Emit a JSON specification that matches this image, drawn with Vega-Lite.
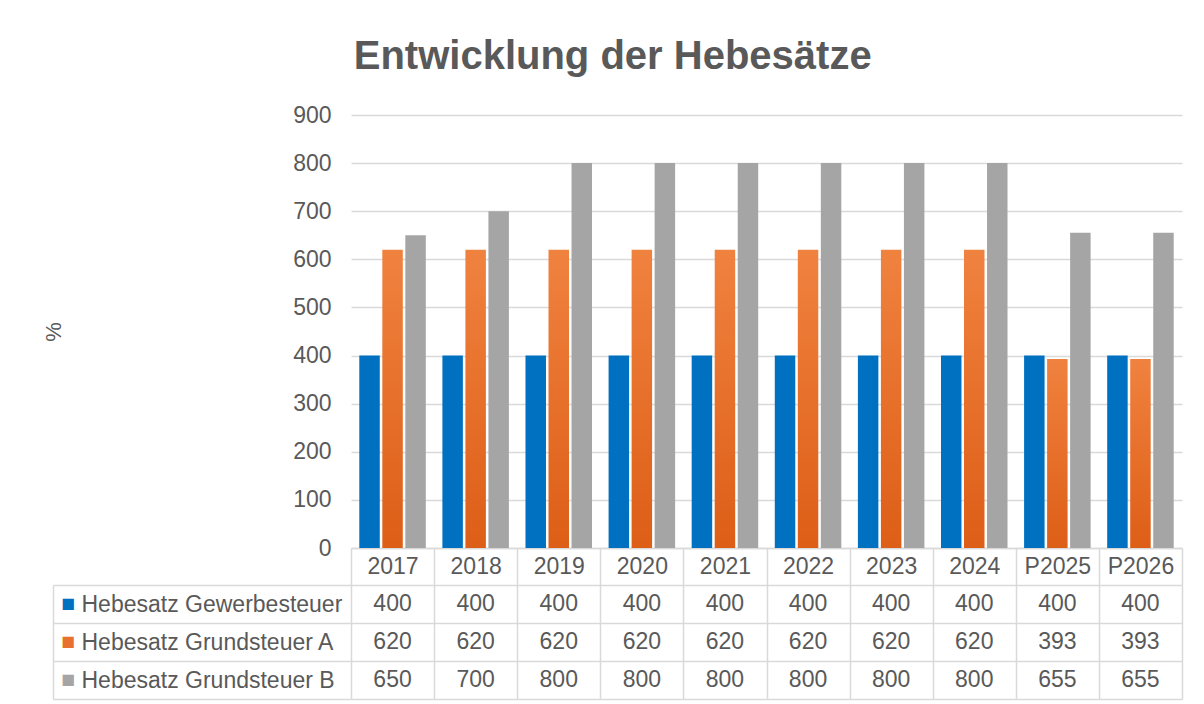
{
  "$schema": "https://vega.github.io/schema/vega-lite/v6.json",
  "background": "white",
  "padding": {"left": 42, "top": 37, "right": 20, "bottom": 5},
  "title": {"text": "Entwicklung der Hebesätze", "font": "Liberation Sans", "fontSize": 40, "fontWeight": "bold", "color": "#595959", "anchor": "middle", "offset": 27},
  "datasets": {
    "d": [
      {"year": "2017", "series": "Hebesatz Gewerbesteuer", "value": 400},
      {"year": "2017", "series": "Hebesatz Grundsteuer A", "value": 620},
      {"year": "2017", "series": "Hebesatz Grundsteuer B", "value": 650},
      {"year": "2018", "series": "Hebesatz Gewerbesteuer", "value": 400},
      {"year": "2018", "series": "Hebesatz Grundsteuer A", "value": 620},
      {"year": "2018", "series": "Hebesatz Grundsteuer B", "value": 700},
      {"year": "2019", "series": "Hebesatz Gewerbesteuer", "value": 400},
      {"year": "2019", "series": "Hebesatz Grundsteuer A", "value": 620},
      {"year": "2019", "series": "Hebesatz Grundsteuer B", "value": 800},
      {"year": "2020", "series": "Hebesatz Gewerbesteuer", "value": 400},
      {"year": "2020", "series": "Hebesatz Grundsteuer A", "value": 620},
      {"year": "2020", "series": "Hebesatz Grundsteuer B", "value": 800},
      {"year": "2021", "series": "Hebesatz Gewerbesteuer", "value": 400},
      {"year": "2021", "series": "Hebesatz Grundsteuer A", "value": 620},
      {"year": "2021", "series": "Hebesatz Grundsteuer B", "value": 800},
      {"year": "2022", "series": "Hebesatz Gewerbesteuer", "value": 400},
      {"year": "2022", "series": "Hebesatz Grundsteuer A", "value": 620},
      {"year": "2022", "series": "Hebesatz Grundsteuer B", "value": 800},
      {"year": "2023", "series": "Hebesatz Gewerbesteuer", "value": 400},
      {"year": "2023", "series": "Hebesatz Grundsteuer A", "value": 620},
      {"year": "2023", "series": "Hebesatz Grundsteuer B", "value": 800},
      {"year": "2024", "series": "Hebesatz Gewerbesteuer", "value": 400},
      {"year": "2024", "series": "Hebesatz Grundsteuer A", "value": 620},
      {"year": "2024", "series": "Hebesatz Grundsteuer B", "value": 800},
      {"year": "P2025", "series": "Hebesatz Gewerbesteuer", "value": 400},
      {"year": "P2025", "series": "Hebesatz Grundsteuer A", "value": 393},
      {"year": "P2025", "series": "Hebesatz Grundsteuer B", "value": 655},
      {"year": "P2026", "series": "Hebesatz Gewerbesteuer", "value": 400},
      {"year": "P2026", "series": "Hebesatz Grundsteuer A", "value": 393},
      {"year": "P2026", "series": "Hebesatz Grundsteuer B", "value": 655}
    ]
  },
  "spacing": 37,
  "bounds": "flush",
  "vconcat": [
    {
      "width": 831,
      "height": 433,
      "data": {"name": "d"},
      "mark": {"type": "bar"},
      "encoding": {
        "x": {
          "field": "year", "type": "nominal", "sort": null, "title": null,
          "scale": {"paddingInner": 0, "paddingOuter": 0},
          "axis": {"labelAngle": 0, "labelFontSize": 23, "labelColor": "#595959", "labelBaseline": "middle", "labelPadding": -18.5, "ticks": true, "tickBand": "extent", "tickSize": 37, "tickColor": "#D9D9D9", "tickWidth": 1.5, "domain": true, "domainColor": "#D9D9D9", "domainWidth": 1.5, "grid": false}
        },
        "xOffset": {
          "field": "series", "type": "nominal",
          "sort": ["Hebesatz Gewerbesteuer", "Hebesatz Grundsteuer A", "Hebesatz Grundsteuer B"],
          "scale": {"paddingInner": 0.11, "paddingOuter": 0.36}
        },
        "y": {
          "field": "value", "type": "quantitative", "title": "%",
          "scale": {"domain": [0, 900]},
          "axis": {"values": [0, 100, 200, 300, 400, 500, 600, 700, 800, 900], "domain": false, "ticks": false, "labelPadding": 20, "labelFontSize": 23, "labelColor": "#595959", "grid": true, "gridColor": "#D9D9D9", "gridWidth": 1.5, "titleFontSize": 22, "titleFontWeight": "normal", "titleColor": "#595959", "titlePadding": 227}
        },
        "color": {
          "condition": [
            {"test": "datum.series === 'Hebesatz Gewerbesteuer'", "value": "#0070C0"},
            {"test": "datum.series === 'Hebesatz Grundsteuer A'", "value": {"gradient": "linear", "x1": 0, "y1": 0, "x2": 0, "y2": 1, "stops": [{"offset": 0, "color": "#F0823F"}, {"offset": 1, "color": "#DD5E17"}]}}
          ],
          "value": "#A5A5A5"
        }
      }
    },
    {
      "width": 831,
      "height": 114,
      "data": {"name": "d"},
      "resolve": {"axis": {"y": "independent"}},
      "layer": [
        {
          "mark": {"type": "text", "fontSize": 23, "color": "#595959", "baseline": "middle"},
          "encoding": {
            "x": {
              "field": "year", "type": "nominal", "sort": null, "title": null,
              "scale": {"paddingInner": 0, "paddingOuter": 0},
              "axis": {"labels": false, "ticks": false, "domain": false, "grid": true, "tickBand": "extent", "gridColor": "#D9D9D9", "gridWidth": 1.5}
            },
            "y": {
              "field": "series", "type": "nominal", "title": null,
              "sort": ["Hebesatz Gewerbesteuer", "Hebesatz Grundsteuer A", "Hebesatz Grundsteuer B"],
              "axis": {"orient": "left", "domain": false, "ticks": true, "tickBand": "extent", "tickSize": 298, "tickColor": "#D9D9D9", "tickWidth": 1.5, "grid": true, "gridColor": "#D9D9D9", "gridWidth": 1.5, "labelAlign": "left", "labelBaseline": "middle", "labelPadding": -28, "labelFontSize": 23, "labelColor": "#595959", "labelLimit": 400}
            },
            "text": {"field": "value", "type": "quantitative"}
          }
        },
        {
          "mark": {"type": "text", "fontSize": 23, "opacity": 0},
          "encoding": {
            "x": {"field": "year", "type": "nominal", "sort": null, "title": null},
            "y": {
              "field": "series", "type": "nominal", "title": null,
              "sort": ["Hebesatz Gewerbesteuer", "Hebesatz Grundsteuer A", "Hebesatz Grundsteuer B"],
              "axis": {"orient": "left", "offset": 298, "domain": true, "domainColor": "#D9D9D9", "domainWidth": 1.5, "ticks": false, "grid": false, "labelExpr": "'■'", "labelAlign": "left", "labelBaseline": "middle", "labelPadding": -8, "labelFontSize": 23, "labelColor": {"condition": [{"test": "datum.value === 'Hebesatz Gewerbesteuer'", "value": "#0070C0"}, {"test": "datum.value === 'Hebesatz Grundsteuer A'", "value": "#E9712F"}], "value": "#A5A5A5"}}
            },
            "text": {"field": "value", "type": "quantitative"}
          }
        }
      ]
    }
  ],
  "config": {
    "font": "Liberation Sans",
    "view": {"stroke": null}
  }
}
